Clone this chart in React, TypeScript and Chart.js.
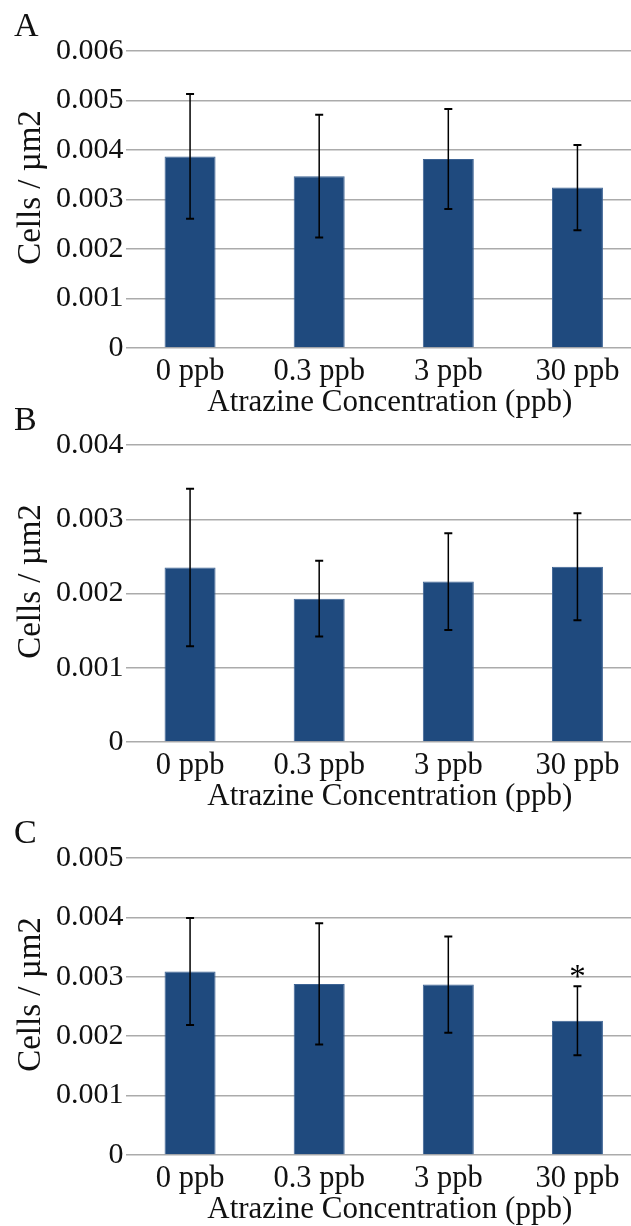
import React, { useEffect, useRef } from 'react';
import { Chart, registerables } from 'chart.js';

Chart.register(...registerables);

// ---- data ----
const categories = ['0 ppb', '0.3 ppb', '3 ppb', '30 ppb'];

const meansA = [0.00387, 0.00347, 0.00382, 0.00324];
const errorsA = [0.00126, 0.00124, 0.00101, 0.00086];
const marksA = ['', '', '', ''];
const yMaxA = 0.006;

const meansB = [0.00235, 0.00193, 0.00216, 0.00236];
const errorsB = [0.00106, 0.00051, 0.00065, 0.00072];
const marksB = ['', '', '', ''];
const yMaxB = 0.004;

const meansC = [0.00309, 0.00288, 0.00287, 0.00226];
const errorsC = [0.0009, 0.00102, 0.00081, 0.00058];
const marksC = ['', '', '', '*'];
const yMaxC = 0.005;

const yStep = 0.001;
const yTitle = 'Cells / µm2';
const xTitle = 'Atrazine Concentration (ppb)';
const panelLetters = ['A', 'B', 'C'];

// ---- style ----
const FONT = '"Liberation Serif", "Times New Roman", Times, serif';
const BAR_COLOR = '#1f4a7e';
const BAR_EDGE = '#3d6394';
const GRID_COLOR = '#ababab';
const TEXT_COLOR = '#111111';

const CANVAS_W = 642;
const PAD_TOP = 45;
const PLOT_H = 297;
const X_AXIS_H = 72;
const CANVAS_H = PAD_TOP + PLOT_H + X_AXIS_H;
const Y_AXIS_W = 125.5;

const errorBarPlugin = {
  id: 'errorBars',
  afterDatasetsDraw(chart: any, _args: any, opts: any) {
    const { ctx } = chart;
    const meta = chart.getDatasetMeta(0);
    const yScale = chart.scales.y;
    const means: number[] = chart.data.datasets[0].data;
    const errs: number[] = opts.errors || [];
    const marks: string[] = opts.marks || [];
    ctx.save();
    ctx.strokeStyle = '#000';
    meta.data.forEach((bar: any, i: number) => {
      const e = errs[i];
      if (e == null) return;
      const x = bar.x;
      const yTop = yScale.getPixelForValue(means[i] + e);
      const yBot = yScale.getPixelForValue(means[i] - e);
      ctx.lineWidth = 1.5;
      ctx.beginPath();
      ctx.moveTo(x, yTop);
      ctx.lineTo(x, yBot);
      ctx.stroke();
      ctx.lineWidth = 2;
      ctx.beginPath();
      ctx.moveTo(x - 4, yTop);
      ctx.lineTo(x + 4, yTop);
      ctx.moveTo(x - 4, yBot);
      ctx.lineTo(x + 4, yBot);
      ctx.stroke();
      const m = marks[i];
      if (m) {
        ctx.fillStyle = '#000';
        ctx.font = `33px ${FONT}`;
        ctx.textAlign = 'center';
        ctx.textBaseline = 'alphabetic';
        ctx.fillText(m, x, yTop + 1);
      }
    });
    ctx.restore();
  },
};

const labelsPlugin = {
  id: 'panelText',
  afterDraw(chart: any, _args: any, opts: any) {
    const { ctx, chartArea } = chart;
    ctx.save();
    ctx.fillStyle = TEXT_COLOR;
    if (opts.letter) {
      ctx.font = `34px ${FONT}`;
      ctx.textAlign = 'left';
      ctx.textBaseline = 'alphabetic';
      ctx.fillText(opts.letter, 14, PAD_TOP - 15);
    }
    if (opts.xTitle) {
      ctx.font = `31px ${FONT}`;
      ctx.textAlign = 'center';
      ctx.textBaseline = 'alphabetic';
      ctx.fillText(opts.xTitle, (chartArea.left + chartArea.right) / 2 + 6, chartArea.bottom + 63);
    }
    if (opts.yTitle) {
      const cy = (chartArea.top + chartArea.bottom) / 2 - 12;
      ctx.translate(31, cy);
      ctx.rotate(-Math.PI / 2);
      ctx.font = `33px ${FONT}`;
      ctx.textAlign = 'center';
      ctx.textBaseline = 'middle';
      ctx.fillText(opts.yTitle, 0, 0);
    }
    ctx.restore();
  },
};

type PanelProps = {
  top: number;
  letter: string;
  means: number[];
  errors: number[];
  marks: string[];
  yMax: number;
};

function Panel({ top, letter, means, errors, marks, yMax }: PanelProps) {
  const ref = useRef<HTMLCanvasElement | null>(null);
  useEffect(() => {
    if (!ref.current) return;
    const chart = new Chart(ref.current, {
      type: 'bar',
      data: {
        labels: categories,
        datasets: [
          {
            data: means,
            backgroundColor: BAR_COLOR,
            borderColor: BAR_EDGE,
            borderWidth: 1,
            barPercentage: 0.395,
            categoryPercentage: 1,
          },
        ],
      },
      options: {
        responsive: false,
        animation: false,
        devicePixelRatio: 1,
        layout: { padding: { top: PAD_TOP, left: 0, right: 0, bottom: 0 } },
        plugins: {
          legend: { display: false },
          tooltip: { enabled: false },
          title: { display: false },
          errorBars: { errors, marks },
          panelText: { letter, xTitle, yTitle },
        } as any,
        scales: {
          x: {
            type: 'category',
            offset: true,
            grid: { display: false },
            border: { display: false },
            ticks: {
              color: TEXT_COLOR,
              font: { family: FONT, size: 30.5, lineHeight: 1.05 },
              padding: 0,
              maxRotation: 0,
              autoSkip: false,
            },
            title: { display: false },
            afterFit(scale: any) {
              scale.height = X_AXIS_H;
            },
          },
          y: {
            min: 0,
            max: yMax,
            grid: {
              color: GRID_COLOR,
              lineWidth: 1.5,
              drawTicks: false,
            },
            border: { display: false },
            ticks: {
              stepSize: yStep,
              color: TEXT_COLOR,
              font: { family: FONT, size: 30, lineHeight: 1.2 },
              padding: 2,
              callback: (v: any) => (Number(v) === 0 ? '0' : Number(v).toFixed(3)),
            },
            title: { display: false },
            afterFit(scale: any) {
              scale.width = Y_AXIS_W;
            },
          },
        },
      } as any,
      plugins: [errorBarPlugin, labelsPlugin],
    });
    return () => chart.destroy();
  }, [top, letter, means, errors, marks, yMax]);

  return (
    <canvas
      ref={ref}
      width={CANVAS_W}
      height={CANVAS_H}
      style={{
        position: 'absolute',
        left: 0,
        top,
        width: CANVAS_W,
        height: CANVAS_H,
      }}
    />
  );
}

export default function App() {
  return (
    <div
      style={{
        position: 'absolute',
        left: 0,
        top: 0,
        width: 631,
        height: 1226,
        overflow: 'hidden',
        background: '#ffffff',
      }}
    >
      <Panel top={6} letter={panelLetters[0]} means={meansA} errors={errorsA} marks={marksA} yMax={yMaxA} />
      <Panel top={400} letter={panelLetters[1]} means={meansB} errors={errorsB} marks={marksB} yMax={yMaxB} />
      <Panel top={813} letter={panelLetters[2]} means={meansC} errors={errorsC} marks={marksC} yMax={yMaxC} />
    </div>
  );
}
